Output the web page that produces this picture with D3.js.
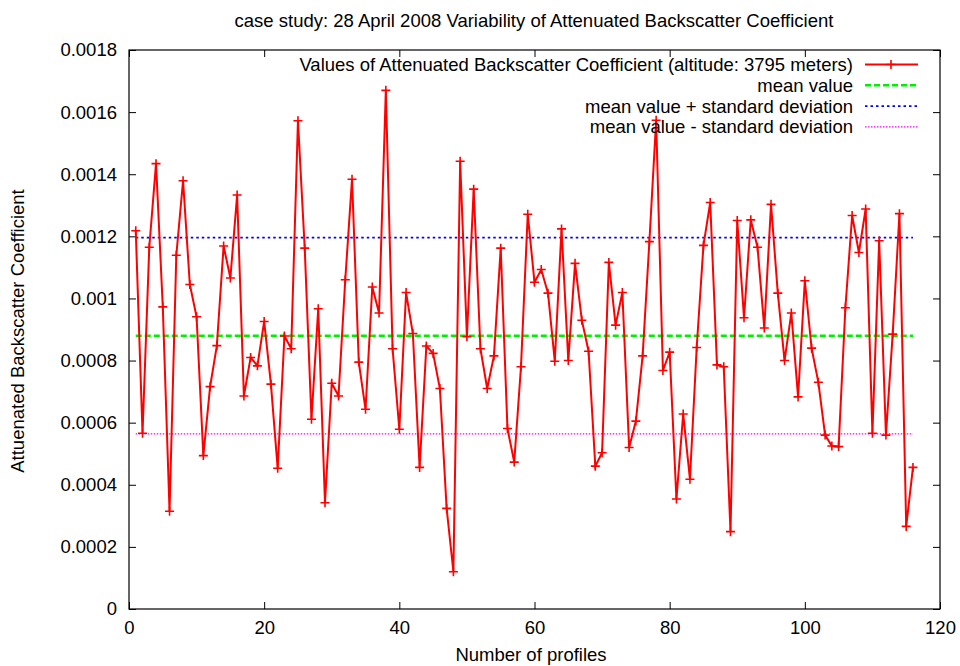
<!DOCTYPE html>
<html>
<head>
<meta charset="utf-8">
<script src="https://cdn.jsdelivr.net/npm/d3@7"></script>
<style>
  body { margin: 0; background: #fff; }
  text { font-family: "Liberation Sans", Arial, sans-serif; fill: #000; }
</style>
</head>
<body>
<svg width="960" height="666"></svg>
<script>
// attenuated backscatter per profile (profile number = position + 1)
const BACKSCATTER = [
  0.001218, 0.000566, 0.001165, 0.001434, 0.000973, 0.000315, 0.001139, 0.001379, 0.001045, 0.000941,
  0.000494, 0.000716, 0.000848, 0.001169, 0.001066, 0.001333, 0.000686, 0.00081, 0.000783, 0.000926,
  0.000724, 0.000453, 0.000879, 0.000838, 0.001572, 0.001162, 0.000611, 0.000967, 0.000342, 0.000727,
  0.000686, 0.00106, 0.001384, 0.000795, 0.000643, 0.001037, 0.000953, 0.00167, 0.000838, 0.000579,
  0.001019, 0.000887, 0.000456, 0.000847, 0.000823, 0.00071, 0.000324, 0.00012, 0.001442, 0.000877,
  0.001352, 0.000838, 0.00071, 0.000815, 0.001162, 0.000581, 0.000473, 0.00078, 0.001271, 0.001052,
  0.001093, 0.001017, 0.000798, 0.001224, 0.0008, 0.001113, 0.00093, 0.00083, 0.00046, 0.000503,
  0.001116, 0.000914, 0.001019, 0.00052, 0.000605, 0.000815, 0.001183, 0.001574, 0.000768, 0.000827,
  0.000354, 0.000628, 0.000418, 0.000842, 0.001171, 0.001309, 0.000786, 0.00078, 0.000249, 0.001251,
  0.000938, 0.001253, 0.001165, 0.000905, 0.001303, 0.001017, 0.0008, 0.000953, 0.000683, 0.001057,
  0.00084, 0.00073, 0.00056, 0.000525, 0.000523, 0.00097, 0.001267, 0.001148, 0.001288, 0.000566,
  0.001186, 0.00056, 0.000885, 0.001273, 0.000266, 0.000456
];
const MEAN_VALUE = 0.00088;
const STD_DEV = 0.000316;

const X_TICKS = [0, 20, 40, 60, 80, 100, 120];
const Y_TICKS = [0, 0.0002, 0.0004, 0.0006, 0.0008, 0.001, 0.0012, 0.0014, 0.0016, 0.0018];
const Y_TICK_LABELS = ["0", "0.0002", "0.0004", "0.0006", "0.0008", "0.001", "0.0012", "0.0014", "0.0016", "0.0018"];

const points = BACKSCATTER.map((v, i) => ({ profile: i + 1, value: v }));
const firstProfile = points[0].profile;
const lastProfile = points[points.length - 1].profile;

const REF_LINES = [
  { label: "mean value", value: MEAN_VALUE, color: "#00ee00", width: 2.5, dash: "6,3" },
  { label: "mean value + standard deviation", value: MEAN_VALUE + STD_DEV, color: "#0000ff", width: 1.8, dash: "2.5,3" },
  { label: "mean value - standard deviation", value: MEAN_VALUE - STD_DEV, color: "#ff00ff", width: 1.2, dash: "1.5,1.5" }
];

const FONT = '18.5px';
const margin = { left: 129, right: 20, top: 50, bottom: 57 };
const width = 960, height = 666;
const svg = d3.select('svg');

const xScale = d3.scaleLinear()
    .domain([0, 120])
    .range([margin.left, width - margin.right]);

const yScale = d3.scaleLinear()
    .domain([0, 0.0018])
    .range([height - margin.bottom, margin.top]);

const plotW = width - margin.right - margin.left;
const plotH = height - margin.bottom - margin.top;

// axes, ticks pointing inside on all four sides
svg.append('g')
    .attr('transform', `translate(0,${height - margin.bottom})`)
    .call(d3.axisBottom(xScale).tickValues(X_TICKS).tickSize(-7).tickPadding(12))
    .call(g => g.select('.domain').remove());
svg.append('g')
    .attr('transform', `translate(0,${margin.top})`)
    .call(d3.axisTop(xScale).tickValues(X_TICKS).tickSize(-7).tickFormat(''))
    .call(g => g.select('.domain').remove());
svg.append('g')
    .attr('transform', `translate(${margin.left},0)`)
    .call(d3.axisLeft(yScale).tickValues(Y_TICKS).tickSize(-7).tickPadding(12)
        .tickFormat((d, i) => Y_TICK_LABELS[i]))
    .call(g => g.select('.domain').remove());
svg.append('g')
    .attr('transform', `translate(${width - margin.right},0)`)
    .call(d3.axisRight(yScale).tickValues(Y_TICKS).tickSize(-7).tickFormat(''))
    .call(g => g.select('.domain').remove());

svg.selectAll('.tick text')
    .style('font-size', FONT)
    .style('font-family', '"Liberation Sans", Arial, sans-serif');
svg.selectAll('.tick line').attr('stroke', '#000');

svg.append('rect')
    .attr('x', margin.left)
    .attr('y', margin.top)
    .attr('width', plotW)
    .attr('height', plotH)
    .attr('fill', 'none')
    .attr('stroke', '#000')
    .attr('stroke-width', 1.2);

// reference lines
svg.selectAll('.ref')
    .data(REF_LINES)
    .enter()
    .append('line')
    .classed('ref', true)
    .attr('x1', xScale(firstProfile))
    .attr('x2', xScale(lastProfile))
    .attr('y1', d => yScale(d.value))
    .attr('y2', d => yScale(d.value))
    .attr('stroke', d => d.color)
    .attr('stroke-width', d => d.width)
    .attr('stroke-dasharray', d => d.dash);

// data line
const line = d3.line()
    .x(d => xScale(d.profile))
    .y(d => yScale(d.value));

svg.append('path')
    .datum(points)
    .attr('d', line)
    .attr('fill', 'none')
    .attr('stroke', '#ff0000')
    .attr('stroke-width', 2)
    .attr('stroke-linejoin', 'miter');

const plus = (x, y, r) => `M${x - r},${y}H${x + r}M${x},${y - r}V${y + r}`;

svg.append('path')
    .attr('d', points.map(d => plus(xScale(d.profile), yScale(d.value), 4.5)).join(''))
    .attr('fill', 'none')
    .attr('stroke', '#ff0000')
    .attr('stroke-width', 1.6);

// title and axis labels
svg.append('text')
    .attr('x', 534)
    .attr('y', 27)
    .attr('text-anchor', 'middle')
    .style('font-size', FONT)
    .text('case study: 28 April 2008 Variability of Attenuated Backscatter Coefficient');

svg.append('text')
    .attr('x', 531)
    .attr('y', 661)
    .attr('text-anchor', 'middle')
    .style('font-size', FONT)
    .text('Number of profiles');

svg.append('text')
    .attr('transform', 'translate(24,331) rotate(-90)')
    .attr('text-anchor', 'middle')
    .style('font-size', FONT)
    .text('Attuenated Backscatter Coefficient');

// legend
const legendRows = [
  { label: 'Values of Attenuated Backscatter Coefficient (altitude: 3795 meters)', color: '#ff0000', width: 2, dash: null }
].concat(REF_LINES);

const legend = svg.append('g');
const rowY = i => 64.5 + i * 20.8;

legend.selectAll('text')
    .data(legendRows)
    .enter()
    .append('text')
    .attr('x', 853)
    .attr('y', (d, i) => rowY(i) + 6.5)
    .attr('text-anchor', 'end')
    .style('font-size', FONT)
    .text(d => d.label);

legend.selectAll('line')
    .data(legendRows)
    .enter()
    .append('line')
    .attr('x1', 865)
    .attr('x2', 918)
    .attr('y1', (d, i) => rowY(i))
    .attr('y2', (d, i) => rowY(i))
    .attr('stroke', d => d.color)
    .attr('stroke-width', d => d.width)
    .attr('stroke-dasharray', d => d.dash);

legend.append('path')
    .attr('d', plus(891, rowY(0), 4.5))
    .attr('stroke', '#ff0000')
    .attr('stroke-width', 1.6);
</script>
</body>
</html>
